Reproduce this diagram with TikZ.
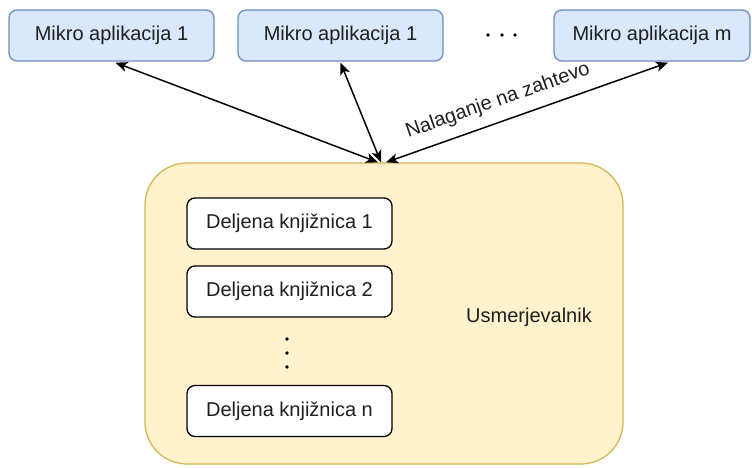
\documentclass[tikz,border=0pt]{standalone}
\usepackage{fontspec}
\setmainfont{Liberation Sans}
\usetikzlibrary{arrows.meta}

\definecolor{appfill}{HTML}{DAE8FC}
\definecolor{appline}{HTML}{6C8EBF}
\definecolor{routerfill}{HTML}{FFF2CC}
\definecolor{routerline}{HTML}{D6B656}
\definecolor{ink}{HTML}{1F1F1F}

\tikzset{
  every node/.style={font=\fontsize{20}{24}\selectfont, text=ink},
  appbox/.style={draw=appline, fill=appfill, line width=1.3pt, rounded corners=8pt,
                 minimum height=51pt, inner sep=0pt},
  libbox/.style={draw=black, fill=white, line width=1.3pt, rounded corners=8pt,
                 minimum width=205pt, minimum height=51pt, inner sep=0pt},
  routerbox/.style={draw=routerline, fill=routerfill, line width=1.3pt, rounded corners=42pt,
                    minimum width=478pt, minimum height=301pt, inner sep=0pt},
  link/.style={draw=black, line width=1.5pt,
               {Stealth[length=12pt,width=10pt,inset=3pt]}-{Stealth[length=12pt,width=10pt,inset=3pt]}},
  dotmark/.style={fill=black, draw=none, circle, minimum size=3.6pt, inner sep=0pt}
}

\begin{document}
\begin{tikzpicture}[x=1pt, y=-1pt]
  \useasboundingbox (0,0) rectangle (752,468);

  % micro applications
  \node[appbox, minimum width=205pt] (m1) at (111.5,35.5) {Mikro aplikacija 1};
  \node[appbox, minimum width=205pt] (m2) at (340.5,35.5) {Mikro aplikacija 1};
  \node[appbox, minimum width=196pt] (m3) at (652,35.5) {Mikro aplikacija m};

  % horizontal ellipsis
  \node[dotmark] (h1) at (488,35) {};
  \node[dotmark] (h2) at (502,35) {};
  \node[dotmark] (h3) at (515,35) {};

  % router with the shared libraries
  \node[routerbox] (r) at (384,313.5) {};
  \node (rl) at (529,317) {Usmerjevalnik};

  \node[libbox] (l1) at (289.5,223.5) {Deljena knjižnica 1};
  \node[libbox] (l2) at (289.5,291.5) {Deljena knjižnica 2};
  \node[libbox] (ln) at (289.5,411) {Deljena knjižnica n};

  % vertical ellipsis
  \node[dotmark] (v1) at (287,339) {};
  \node[dotmark] (v2) at (287,353) {};
  \node[dotmark] (v3) at (287,367) {};

  % on-demand loading links
  \coordinate (r1) at ([xshift=-6pt]r.north);
  \coordinate (r2) at ([xshift=-3pt]r.north);
  \coordinate (r3) at ([xshift=2pt]r.north);
  \coordinate (a1) at ([xshift=4pt,yshift=-1pt]m1.south);
  \coordinate (a2) at ([yshift=-1pt]m2.south);
  \coordinate (a3) at ([xshift=16pt,yshift=-1pt]m3.south);

  \draw[link] (r1) -- (a1);
  \draw[link] (r2) -- (a2);
  \draw[link] (r3) -- (a3);

  \node[rotate=19.3] (lbl) at (498,101) {Nalaganje na zahtevo};
\end{tikzpicture}
\end{document}
